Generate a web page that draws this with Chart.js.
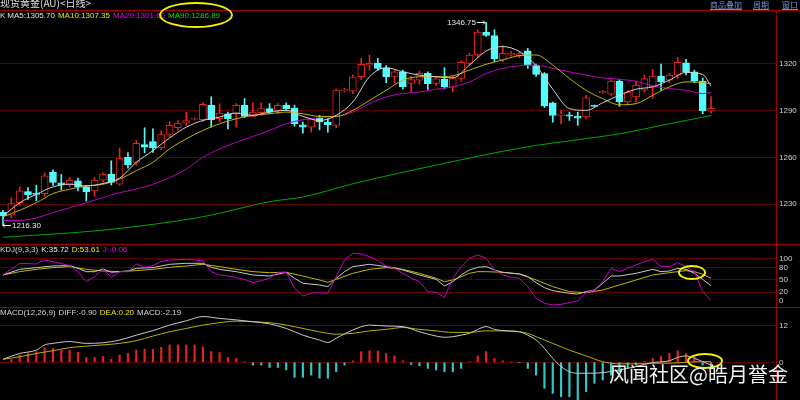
<!DOCTYPE html>
<html>
<head>
<meta charset="utf-8">
<script src="https://cdn.jsdelivr.net/npm/chart.js@4.4.0/dist/chart.umd.min.js"></script>
<style>
  html, body { margin: 0; padding: 0; background: #000; }
  #wrap { position: relative; width: 800px; height: 400px; background: #000; overflow: hidden;
          font-family: "Liberation Sans", Arial, sans-serif; }
  canvas { position: absolute; left: 0; }
  .hl { position: absolute; left: 0; width: 800px; height: 1px; background: #a00000; }
  .vl { position: absolute; left: 776px; top: 10px; width: 1px; height: 390px; background: #a00000; }
  .txt { position: absolute; font-size: 8px; line-height: 10px; white-space: nowrap; }
  .txt span { margin-right: 3px; }
  .ring { position: absolute; border: 2px solid #f2f000; border-radius: 50%; box-sizing: border-box; }
  .lnk { position: absolute; top: 0px; font-size: 8px; line-height: 10px; color: #6c8fd0;
         text-decoration: underline; font-family: "Noto Sans CJK SC", sans-serif; }
</style>
</head>
<body>
<div id="wrap">
  <canvas id="mainChart" width="800" height="234" style="top:10px"></canvas>
  <canvas id="kdjChart" width="800" height="63" style="top:244px"></canvas>
  <canvas id="macdChart" width="800" height="93" style="top:307px"></canvas>

  <div class="hl" style="top:10px"></div>
  <div class="hl" style="top:244px"></div>
  <div class="hl" style="top:307px"></div>
  <div class="vl"></div>

  <div class="txt" style="left:0;top:-3px;font-size:10px;line-height:12px;color:#e0e0e0;font-family:'Noto Sans CJK SC',sans-serif">现货黄金(AU)&lt;日线&gt;</div>
  <div class="lnk" style="left:710px">商品叠加</div>
  <div class="lnk" style="left:753px">周期</div>
  <div class="lnk" style="left:782px">窗口</div>

  <div class="txt" style="left:0;top:11px">
    <span style="color:#e0e0e0;margin-right:2px">K</span><span style="color:#e6e6e6">MA5:1305.70</span><span style="color:#f0e800">MA10:1307.35</span><span style="color:#f000f0">MA20:1301.60</span><span style="color:#00e000">MA90:1286.89</span>
  </div>
  <div class="txt" style="left:0;top:245px">
    <span style="color:#d8d8d8">KDJ(9,3,3)</span><span style="color:#eeeeee">K:35.72</span><span style="color:#f0e800">D:53.61</span><span style="color:#f000f0">J:-0.06</span>
  </div>
  <div class="txt" style="left:0;top:308px">
    <span style="color:#d8d8d8">MACD(12,26,9)</span><span style="color:#d8d8d8">DIFF:-0.90</span><span style="color:#f0e800">DEA:0.20</span><span style="color:#d8d8d8">MACD:-2.19</span>
  </div>

  <div class="ring" style="left:159px;top:2px;width:74px;height:26px"></div>
  <div class="ring" style="left:678px;top:265px;width:28px;height:15px"></div>
  <div class="ring" style="left:687px;top:353px;width:36px;height:16px"></div>

  <div class="txt" style="left:609px;top:362px;font-size:20px;line-height:24px;color:#f4f4f4;font-family:'Noto Sans CJK SC',sans-serif">风闻社区@皓月誉金</div>
</div>

<script>
// daily candles, index 0..85
const opens  = [1224.6,1222.9,1230.8,1238.0,1237.0,1236.7,1250.3,1243.6,1242.7,1244.9,1241.0,1238.4,1245.3,1249.2,1242.7,1260.0,1256.7,1268.2,1270.1,1266.0,
                1274.7,1279.0,1282.0,1284.6,1284.2,1293.5,1284.8,1288.0,1288.0,1293.5,1286.3,1288.7,1291.3,1290.2,1293.5,1291.7,1280.9,1279.4,1285.2,1282.7,
                1280.5,1302.8,1302.5,1311.8,1319.3,1320.4,1317.2,1312.0,1315.0,1307.5,1309.6,1314.0,1307.5,1310.2,1305.3,1310.7,1320.4,1325.8,1340.5,1338.3,
                1322.6,1325.8,1325.4,1328.4,1319.3,1313.9,1295.1,1287.0,1287.4,1286.5,1285.9,1293.4,1301.4,1300.6,1309.0,1295.6,1298.8,1303.2,1305.3,1312.2,
                1309.6,1312.8,1320.8,1315.0,1309.0,1289.6];
const closes = [1222.4,1230.2,1238.4,1235.8,1236.2,1248.1,1243.8,1242.3,1245.3,1241.0,1238.0,1245.3,1249.2,1243.8,1259.6,1255.2,1269.0,1266.5,1266.0,1274.7,
                1280.5,1282.0,1283.7,1285.0,1294.1,1284.2,1288.5,1284.8,1293.5,1286.3,1289.1,1291.3,1289.1,1293.5,1291.3,1281.6,1279.4,1284.8,1282.7,1281.0,
                1303.2,1303.6,1311.8,1319.8,1320.4,1317.2,1311.8,1315.0,1305.5,1310.0,1314.0,1307.3,1310.5,1305.3,1310.7,1321.0,1325.8,1340.5,1338.3,1323.2,
                1326.9,1326.9,1326.5,1319.3,1313.3,1293.0,1286.9,1288.0,1286.5,1285.2,1298.2,1292.8,1302.5,1309.0,1295.6,1302.0,1306.4,1310.7,1312.2,1308.5,
                1312.8,1321.0,1315.0,1309.0,1289.8,1291.5];
const highs  = [1226.0,1234.0,1241.0,1240.5,1242.0,1250.0,1252.0,1249.0,1247.0,1246.6,1242.0,1247.0,1250.0,1257.8,1266.0,1263.0,1271.0,1279.0,1278.3,1277.0,
                1283.0,1283.7,1289.0,1285.5,1295.0,1298.9,1294.5,1289.1,1294.5,1297.8,1295.0,1295.0,1294.5,1294.5,1295.0,1293.5,1282.7,1285.0,1287.0,1284.8,
                1304.0,1304.5,1313.0,1323.6,1325.8,1323.6,1319.0,1316.0,1316.0,1312.0,1315.5,1315.0,1312.0,1317.6,1312.0,1322.0,1327.0,1342.0,1346.75,1342.0,
                1331.8,1328.0,1328.0,1330.0,1320.0,1314.5,1295.5,1290.2,1289.1,1289.1,1299.9,1293.6,1303.0,1310.0,1310.0,1303.0,1309.0,1313.0,1316.5,1320.0,
                1314.0,1324.3,1323.0,1316.0,1311.0,1299.0];
const lows   = [1216.3,1221.0,1229.0,1233.0,1232.0,1235.0,1242.0,1239.0,1241.0,1238.4,1232.0,1235.0,1244.0,1242.3,1242.0,1253.0,1255.0,1263.0,1263.2,1265.0,
                1273.0,1277.3,1280.5,1284.0,1283.0,1279.4,1282.7,1278.3,1279.4,1285.5,1285.9,1287.0,1288.0,1288.0,1290.2,1280.0,1275.5,1276.2,1277.7,1276.2,
                1279.0,1302.0,1301.0,1310.0,1316.0,1316.0,1308.0,1308.0,1304.0,1302.0,1307.0,1303.6,1306.0,1304.0,1302.0,1309.0,1319.0,1324.0,1337.7,1321.5,
                1321.5,1325.0,1324.0,1317.2,1312.0,1292.0,1282.6,1281.5,1283.7,1280.5,1284.8,1292.6,1301.0,1300.0,1292.8,1294.0,1295.6,1302.0,1298.0,1303.2,
                1308.0,1310.7,1313.0,1308.0,1288.0,1288.5];

// moving averages, read at candle positions [index, value]
const ma5 = [[0,1222.2],[2,1230.8],[4,1236.2],[6,1241],[8,1242.7],[10,1241.6],[12,1243.2],[14,1246.6],[16,1256.8],[18,1264.3],[20,1272.5],[22,1279.4],
  [24,1283.7],[26,1285.9],[28,1288.5],[30,1287],[32,1289.1],[34,1290.2],[36,1286.3],[38,1283.7],[40,1287],[42,1295.6],[44,1311.8],[46,1317.6],[48,1315],
  [50,1312.8],[52,1311.8],[54,1311.1],[56,1319.3],[58,1328.4],[60,1331.2],[62,1328],[64,1318.9],[66,1303.8],[68,1291.3],[70,1290.2],[72,1295.1],
  [74,1299.9],[76,1303.8],[78,1305.3],[80,1309.6],[82,1314.6],[84,1313.3],[85,1305.7]];
const ma10 = [[0,1221.8],[2,1225.9],[4,1230.8],[6,1236.7],[8,1239.5],[10,1241.6],[12,1242.7],[14,1246],[16,1251.4],[18,1256.8],[20,1265.4],[22,1271.9],
  [24,1277.3],[26,1281.6],[28,1284.8],[30,1287],[32,1288],[34,1289.1],[36,1288],[38,1286.3],[40,1286.3],[42,1290.2],[44,1296.6],[46,1303.1],[48,1309.6],
  [50,1311.8],[52,1311.8],[54,1312.4],[56,1316.1],[58,1319.8],[60,1322.6],[62,1325.4],[64,1325.8],[66,1319.3],[68,1310.7],[70,1303.1],[72,1297.7],
  [74,1293.8],[76,1294.5],[78,1299.9],[80,1305.3],[82,1308.5],[84,1308.1],[85,1307.35]];
const ma20 = [[0,1219.4],[2,1219.4],[4,1221.1],[6,1224.4],[8,1227.6],[10,1230.8],[12,1234.1],[14,1237.3],[16,1239.5],[18,1242.7],[20,1247],[22,1252.4],
  [24,1260],[26,1265.4],[28,1269.7],[30,1273.4],[32,1277.3],[34,1281.6],[36,1284.2],[38,1285.5],[40,1286.3],[42,1289.1],[44,1294.5],[46,1298.8],[48,1301],
  [50,1302],[52,1303.8],[54,1305.3],[56,1308.5],[58,1313.9],[60,1317.2],[62,1318.9],[64,1319.3],[66,1317.2],[68,1315],[70,1312.8],[72,1311.1],
  [74,1310.2],[76,1308.9],[78,1305.9],[80,1304.2],[82,1303.1],[84,1301],[85,1301.6]];
const ma90 = [[0,1208.6],[12,1213.2],[24,1221.8],[32,1231.5],[36,1234.5],[42,1243],[52,1255],[63,1266.8],[69,1271.3],[74,1275.1],[79,1280.5],[85,1286.89]];

// KDJ(9,3,3)
const kLine = [[0,61.5],[2,75.1],[4,79.2],[6,83.2],[8,84],[9,77.5],[10,69.5],[11,69.5],[12,76],[13,67.9],[14,69.5],[15,71.1],[16,77.5],[18,79.2],[20,87.2],
  [22,89.6],[24,89.6],[25,80],[26,75.1],[28,69.5],[30,61.5],[32,59],[34,67.9],[35,53.5],[36,41.4],[38,37.4],[39,33.4],[40,53.5],[41,69.5],[42,81.6],
  [44,87.2],[46,81.6],[47,79.2],[48,73.5],[50,61.5],[52,51],[53,35],[54,45.4],[55,61.5],[56,73.5],[57,80],[58,81.6],[59,73.5],[60,67.9],[62,63.9],
  [63,57.5],[64,43],[65,31],[66,23.7],[68,17.3],[69,15.7],[70,21.3],[71,25.3],[72,41.4],[73,59],[74,59],[76,65.5],[78,75.1],[79,69.5],[80,71.1],
  [81,77.5],[82,75.1],[83,65.5],[84,51],[85,35.72]];
const dLine = [[0,61.5],[2,69.5],[4,75.1],[6,79.2],[8,81.6],[10,75.1],[12,71.1],[14,69.5],[16,71.9],[18,75.1],[20,80],[22,83.2],[24,87.2],[26,81.6],
  [28,75.1],[30,69.5],[32,67.1],[34,67.9],[36,59],[38,49.4],[39,43.8],[40,51],[42,65.5],[44,75.1],[46,79.2],[48,75.1],[50,65.5],[52,53.5],[53,45.4],
  [54,49.4],[55,57.5],[56,65.5],[57,69.5],[58,69.5],[60,67.9],[62,63.9],[64,49.4],[66,33.4],[68,21.3],[70,18.9],[72,25.3],[74,37.4],[76,49.4],
  [78,61.5],[80,67.1],[82,71.9],[83,69.5],[84,63.1],[85,53.61]];
const jLine = [[0,61.5],[2,89.6],[4,88],[5,97.6],[6,93.6],[8,84],[9,69.5],[10,45.4],[11,57.5],[12,76],[13,55.9],[14,69.5],[15,69.5],[16,88],[17,80],
  [18,84],[19,93.6],[20,97.6],[22,99.2],[24,96],[25,69.5],[26,61.5],[27,59],[28,55],[29,51],[30,43],[31,47.8],[32,53.5],[33,67.9],[34,67.9],[35,29.4],
  [36,10.9],[37,17.3],[38,18.9],[39,17.3],[40,57.5],[41,97.6],[42,113.7],[43,112],[44,105.7],[45,96],[46,83.2],[47,77.5],[48,65.5],[49,53.5],[50,45.4],
  [51,21.3],[52,19.7],[53,7.7],[54,53.5],[55,81.6],[56,101.6],[57,109.7],[58,101.6],[59,73.5],[60,61.5],[61,55.9],[62,53.5],[63,33.4],[64,5.3],
  [65,-6.8],[66,-10.8],[67,-9.2],[68,-5.2],[69,-1.2],[70,18.9],[71,25.3],[72,45.4],[73,77.5],[74,69.5],[75,77.5],[76,85.6],[77,93.6],[78,99.2],
  [79,81.6],[80,81.6],[81,91.2],[82,81.6],[83,69.5],[84,21.3],[85,-0.06]];

// MACD(12,26,9)
const diffLine = [[0,1],[2,2.9],[4,4],[5,5.7],[6,6.2],[8,6.8],[10,6.2],[12,6.4],[14,7.3],[16,8.9],[18,10.4],[20,12.2],[22,13.6],[24,15],[26,14.4],
  [28,13.9],[30,13.3],[32,12.6],[34,11.1],[36,8.9],[38,7.3],[39,6.5],[40,7.9],[42,10.6],[44,12.2],[46,11.9],[48,11.7],[50,10],[52,8.6],[53,8.2],
  [54,8.4],[55,8.9],[56,9.5],[57,10.8],[58,11.7],[59,10.8],[60,10.4],[62,10],[63,8.9],[64,7.3],[65,4.6],[66,1.3],[67,-1.4],[68,-3.1],[69,-3.6],
  [70,-3.6],[72,-3.4],[74,-2.5],[76,-1.4],[78,-0.1],[80,0.5],[81,1.6],[82,2.1],[83,1.3],[84,0.2],[85,-0.9]];
const deaLine = [[0,1],[2,1.8],[4,2.9],[6,3.8],[8,4.8],[10,5.3],[12,5.7],[14,6.2],[16,7.1],[18,8.6],[20,10],[22,11.1],[24,12.2],[26,13],[28,13.5],
  [30,13.3],[32,13],[34,12.2],[36,11.1],[38,10],[40,9.2],[42,9.5],[44,10.3],[46,10.8],[48,11.4],[50,10.8],[52,10.3],[54,9.8],[56,9.8],[58,10.3],
  [60,10.3],[62,10],[63,9.5],[64,8.4],[66,6.2],[68,4],[70,2.1],[72,0.2],[74,-0.5],[76,-0.5],[78,-0.3],[80,-0.3],[82,0],[84,0.2],[85,0.2]];
const macdBars = [0,0.9,2.4,2.9,3.5,4.8,4.6,4.0,4.0,3.3,1.6,1.6,1.9,1.0,2.4,2.9,4.0,4.3,4.3,4.9,
  5.7,5.7,5.7,5.7,5.1,3.5,3.2,1.6,1.3,0.2,-0.9,-0.9,-1.7,-1.7,-2.5,-4.9,-4.9,-4.2,-5.2,-5.2,
  -3.1,-0.9,0.5,3.5,3.8,3.7,2.9,2.1,0.5,-0.7,-1.1,-2.0,-2.5,-3.1,-3.1,-2.0,0.2,2.1,3.5,1.3,
  0.5,0.1,-0.1,-2.0,-4.2,-8.5,-10.2,-11.3,-11.3,-12.4,-9.6,-6.9,-5.8,-4.2,-3.1,-2.0,-0.9,0.3,1.3,1.9,
  2.9,3.8,2.9,1.9,-0.9,-2.19];

// axis ticks
const mainTicks = [1230, 1260, 1290, 1320];
const kdjTicks = [0, 20, 50, 80, 100];
const macdTicks = [0, 12];

// marked extremes
const hiIdx = 58, hiVal = 1346.75;
const loIdx = 0, loVal = 1216.30;

const RED = '#e82020', CYAN = '#54fcfc', CYAN_DIM = '#30c8c8';
const GRID = '#5a0000';
const idx = closes.map((_, i) => i);
const rising = i => closes[i] >= opens[i];
const pts = arr => arr.map(p => ({ x: p[0], y: p[1] }));

const xAxis = () => ({ type: 'linear', min: -0.36, max: 92.8, display: false, offset: false });
const yAxis = (min, max, ticks, gridColor) => ({
  position: 'right', min: min, max: max,
  afterBuildTicks: s => { s.ticks = ticks.map(v => ({ value: v })); },
  afterFit: s => { s.width = 24; s.paddingTop = 0; s.paddingBottom = 0; },
  grid: { color: gridColor, drawTicks: false, lineWidth: 1 },
  border: { display: false },
  ticks: { color: '#d0d0d0', font: { family: 'Liberation Sans', size: 8 }, padding: 3, callback: v => v }
});
const baseOptions = (yScale) => ({
  responsive: false, animation: false,
  layout: { padding: 0 },
  plugins: { legend: { display: false }, tooltip: { enabled: false } },
  scales: { x: xAxis(), y: yScale }
});
const lineSet = (data, color, order, smooth) => ({
  type: 'line', data: pts(data), borderColor: color, borderWidth: 1, pointRadius: 0,
  cubicInterpolationMode: smooth ? 'monotone' : 'default', tension: 0, order: order
});

// labels for the highest high and lowest low
const extremes = {
  id: 'extremes',
  afterDatasetsDraw(chart) {
    const { ctx, scales: { x, y } } = chart;
    ctx.save();
    ctx.font = '8px "Liberation Sans"';
    ctx.fillStyle = '#e8e8e8';
    ctx.strokeStyle = '#e8e8e8';
    ctx.lineWidth = 1;
    ctx.textBaseline = 'middle';
    let px = Math.round(x.getPixelForValue(hiIdx)), py = Math.round(y.getPixelForValue(hiVal)) + 0.5;
    ctx.textAlign = 'right';
    ctx.fillText(hiVal.toFixed(2), px - 10, py);
    ctx.beginPath(); ctx.moveTo(px - 9, py); ctx.lineTo(px - 1, py);
    ctx.moveTo(px - 3, py - 2); ctx.lineTo(px - 1, py); ctx.lineTo(px - 3, py + 2); ctx.stroke();
    px = Math.round(x.getPixelForValue(loIdx)); py = Math.round(y.getPixelForValue(loVal)) + 0.5;
    ctx.textAlign = 'left';
    ctx.beginPath(); ctx.moveTo(px, py); ctx.lineTo(px + 8, py);
    ctx.moveTo(px + 2, py - 2); ctx.lineTo(px, py); ctx.lineTo(px + 2, py + 2); ctx.stroke();
    ctx.fillText(loVal.toFixed(2), px + 9, py);
    ctx.restore();
  }
};

new Chart(document.getElementById('mainChart'), {
  type: 'bar',
  data: {
    datasets: [
      lineSet(ma5, '#d2d2d2', 0, true),
      lineSet(ma10, '#c0b400', 0, true),
      lineSet(ma20, '#c000c0', 0, true),
      lineSet(ma90, '#00a800', 0, true),
      {
        data: idx.map(i => ({ x: i, y: [opens[i], closes[i]] })),
        backgroundColor: idx.map(i => rising(i) ? '#000' : CYAN),
        borderColor: idx.map(i => rising(i) ? RED : CYAN),
        borderWidth: 1, borderSkipped: false, barThickness: 7, grouped: false, order: 1
      },
      {
        data: idx.map(i => ({ x: i, y: [lows[i], highs[i]] })),
        backgroundColor: idx.map(i => rising(i) ? RED : CYAN),
        borderWidth: 0, barThickness: 1, grouped: false, order: 2
      }
    ]
  },
  options: baseOptions(yAxis(1204.29, 1354.71, mainTicks, GRID)),
  plugins: [extremes]
});

new Chart(document.getElementById('kdjChart'), {
  type: 'line',
  data: {
    datasets: [
      lineSet(jLine, '#c800c8', 0, false),
      lineSet(kLine, '#c8c8c8', 0, false),
      lineSet(dLine, '#c0b800', 0, false)
    ]
  },
  options: baseOptions(yAxis(-15.66, 136.14, kdjTicks, c => c.tick.value === 0 ? 'rgba(0,0,0,0)' : GRID))
});

new Chart(document.getElementById('macdChart'), {
  type: 'bar',
  data: {
    datasets: [
      lineSet(diffLine, '#c8c8c8', 0, true),
      lineSet(deaLine, '#b8b000', 0, true),
      {
        data: idx.map(i => ({ x: i, y: macdBars[i] })),
        backgroundColor: idx.map(i => macdBars[i] >= 0 ? RED : CYAN_DIM),
        borderWidth: 0, barThickness: 1.5, grouped: false, order: 1
      }
    ]
  },
  options: baseOptions(yAxis(-12.36, 18.13, macdTicks, GRID))
});
</script>
</body>
</html>
